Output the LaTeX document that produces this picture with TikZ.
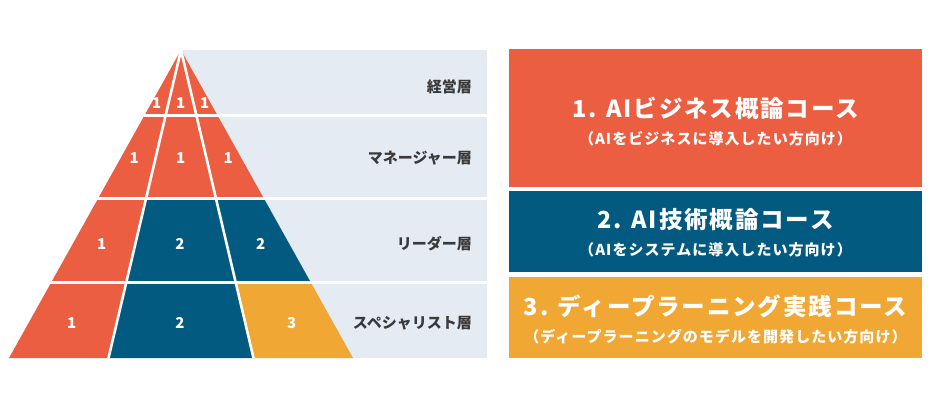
\documentclass[tikz,border=0pt]{standalone}
\usepackage{fontspec}
\newfontfamily\jpfont{Noto Sans CJK JP}
\newfontfamily\jpwide{Noto Sans CJK JP}[LetterSpace=8]
\newfontfamily\jpsub{Noto Sans CJK JP}[LetterSpace=7]
\definecolor{aiorange}{HTML}{EC5E41}
\definecolor{aiblue}{HTML}{035A80}
\definecolor{aiyellow}{HTML}{F0A733}
\definecolor{aigray}{HTML}{E4EBF2}
\definecolor{aitext}{HTML}{3A3A3A}
\begin{document}
\begin{tikzpicture}[x=1pt,y=-1pt,
	gap/.style={white,line width=2.6pt},
	num/.style={text=white,inner sep=0pt,font=\jpfont\bfseries\fontsize{15}{15}\selectfont},
	layer/.style={anchor=east,text=aitext,inner sep=0pt,font=\jpfont\bfseries\fontsize{15}{15}\selectfont},
	coursebox/.style={minimum width=413pt,inner sep=0pt},
	coursetitle/.style={text=white,inner sep=0pt,font=\jpwide\bfseries\fontsize{23.5}{24}\selectfont},
	coursesub/.style={text=white,inner sep=0pt,font=\jpsub\bfseries\fontsize{15}{16}\selectfont}]
\useasboundingbox (0,0) rectangle (933,400);
\fill[aigray] (181,50) rectangle (487,358);
\coordinate (apex) at (181,50);
\coordinate (bl) at (9,358);
\coordinate (dl) at (108.5,358);
\coordinate (dr) at (253.5,358);
\coordinate (br) at (353,358);
\foreach \ya/\yb/\ca/\cb/\cc in {50/115.3/aiorange/aiorange/aiorange,
		115.3/198.3/aiorange/aiorange/aiorange,
		198.3/282.2/aiorange/aiblue/aiblue,
		282.2/358/aiorange/aiblue/aiyellow} {
	\begin{scope}
		\clip (0,\ya) rectangle (400,\yb);
		\fill[\ca] (apex) -- (bl) -- (dl) -- cycle;
		\fill[\cb] (apex) -- (dl) -- (dr) -- cycle;
		\fill[\cc] (apex) -- (dr) -- (br) -- cycle;
	\end{scope}
}
\draw[gap] (apex) -- (dl);
\draw[gap] (apex) -- (dr);
\foreach \y in {115.3,198.3,282.2} {
	\draw[gap] (0,\y) -- (487,\y);
}
\node[num] (n11) at (156.7,103) {1};
\node[num] (n12) at (180.7,103) {1};
\node[num] (n13) at (204.7,103) {1};
\node[num] (n21) at (134.3,158) {1};
\node[num] (n22) at (180.7,158) {1};
\node[num] (n23) at (228.3,158) {1};
\node[num] (n31) at (101.7,244) {1};
\node[num] (n32) at (180,244) {2};
\node[num] (n33) at (260.7,244) {2};
\node[num] (n41) at (71.7,323) {1};
\node[num] (n42) at (180,323) {2};
\node[num] (n43) at (291.7,323) {3};
\node[layer] (exec) at (472,87) {経営層};
\node[layer] (mgr) at (472,158) {マネージャー層};
\node[layer] (lead) at (472,244) {リーダー層};
\node[layer] (spec) at (472,323) {スペシャリスト層};
\node[coursebox,fill=aiorange,minimum height=137.7pt] (biz) at (715.5,117.9) {};
\node[coursebox,fill=aiblue,minimum height=81.6pt] (tech) at (715.5,231.5) {};
\node[coursebox,fill=aiyellow,minimum height=81.6pt] (deep) at (715.5,317.5) {};
\node[coursetitle] (biztitle) at (715.5,108.3) {1. AIビジネス概論コース};
\node[coursesub] (bizsub) at (715.5,138.3) {（AIをビジネスに導入したい方向け）};
\node[coursetitle] (techtitle) at (715.5,220) {2. AI技術概論コース};
\node[coursesub] (techsub) at (715.5,250) {（AIをシステムに導入したい方向け）};
\node[coursetitle] (deeptitle) at (715.5,306.7) {3. ディープラーニング実践コース};
\node[coursesub] (deepsub) at (715.5,336.7) {（ディープラーニングのモデルを開発したい方向け）};
\end{tikzpicture}
\end{document}
